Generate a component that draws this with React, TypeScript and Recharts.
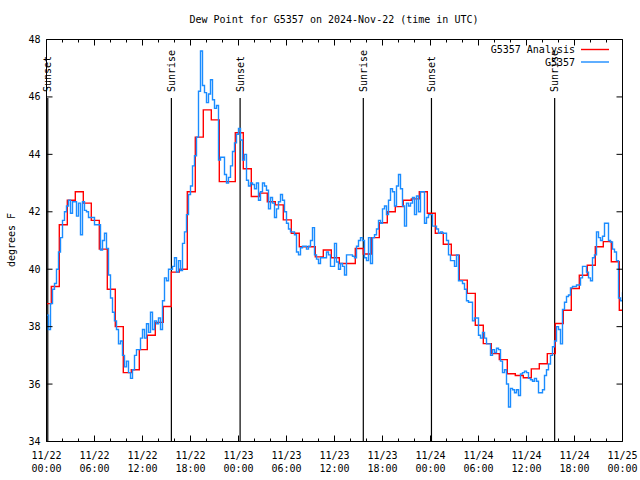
import React from 'react';
import { LineChart, Line, XAxis, YAxis, ReferenceLine } from 'recharts';

const FONT = "'DejaVu Sans Mono', 'Liberation Mono', monospace";

// analysis, hourly, each value valid from about hh:36 UTC (first one from 00:00)
const analysisValues = [
  38.8, 39.4, 41.55, 42.4, 42.7, 42.3, 41.7, 40.7, 39.3, 38.0, 36.4, 36.5,
  37.2, 37.7, 38.15, 38.7, 39.9, 40.0, 42.7, 44.6, 45.55, 45.2, 43.05, 43.05,
  44.75, 43.5, 42.53, 42.65, 42.35, 42.24, 41.72, 41.25, 40.78, 40.78, 40.43, 40.67,
  40.4, 40.2, 40.2, 40.72, 40.53, 41.1, 41.62, 42.0, 42.18, 42.4, 42.45, 42.7,
  41.95, 41.25, 40.87, 40.49, 39.62, 39.16, 38.05, 37.41, 37.06, 36.85, 36.36, 36.3,
  36.22, 36.53, 36.71, 37.06, 38.11, 38.57, 39.33, 39.79, 40.14, 40.78, 40.96, 40.26,
  38.57,
];

// station obs, one every 15 min from 11/22 00:00 (4 per row = 1 hour)
const obsValues = [
  38.4, 37.9, 38.8, 39.3,
  39.5, 40.0, 40.6, 41.1,
  41.7, 42.0, 42.2, 42.4,
  41.95, 42.35, 42.35, 41.85,
  42.3, 41.2, 42.35, 42.05,
  42.0, 41.8, 41.8, 41.8,
  41.55, 41.55, 41.55, 40.67,
  41.0, 41.25, 40.72, 39.8,
  39.0, 38.5, 38.2, 37.9,
  37.4, 37.5, 37.0, 36.6,
  36.8, 36.4, 36.2, 36.5,
  37.0, 37.2, 37.2, 37.6,
  37.9, 37.6, 38.1, 37.8,
  38.5, 37.9, 38.2, 38.1,
  38.3, 37.9, 38.9, 39.7,
  39.6, 40.0, 40.0, 40.1,
  40.4, 39.9, 40.3, 39.95,
  40.9, 41.3, 41.9, 42.6,
  42.9, 43.6, 43.95, 44.6,
  46.2, 47.6, 46.4, 46.15,
  45.8, 46.1, 46.6, 45.9,
  45.6, 45.7, 43.8, 43.9,
  43.9, 43.3, 43.0, 43.2,
  43.6, 44.1, 44.4, 44.7,
  44.9, 44.5, 43.8, 44.0,
  43.1, 42.9, 43.0, 42.95,
  42.8, 43.0, 42.4, 42.7,
  43.0, 42.9, 42.75, 42.1,
  42.5, 42.3, 41.8, 42.1,
  42.35, 42.6, 42.4, 42.0,
  41.6, 41.4, 41.3, 41.3,
  41.2, 40.6, 40.5, 40.75,
  40.8, 40.8, 40.7, 40.8,
  41.0, 41.45, 40.5, 40.35,
  40.2, 40.4, 40.4, 40.4,
  40.6, 40.5, 40.1, 40.1,
  40.9, 40.25, 40.0, 40.2,
  40.1, 39.8, 40.5, 40.5,
  40.5, 40.45, 40.4, 40.8,
  41.0, 41.1, 41.0, 40.4,
  40.3, 41.1, 40.2, 41.1,
  41.2, 41.4, 41.7, 41.6,
  42.1, 42.2, 41.9, 42.4,
  42.8, 42.7, 42.2, 42.9,
  43.3, 42.8, 42.2, 41.5,
  42.3, 42.2, 42.3, 42.5,
  41.9, 42.55, 42.0, 42.7,
  42.7, 41.6, 41.8, 41.9,
  41.9, 41.5, 41.5, 41.4,
  41.25, 41.3, 41.25, 41.25,
  41.0, 40.5, 40.3, 40.3,
  40.1, 40.5, 39.6, 39.6,
  39.5, 39.3, 38.9, 38.85,
  38.85, 38.2, 38.3, 38.3,
  37.7, 37.6, 37.8, 37.6,
  37.4, 37.4, 37.0, 37.2,
  37.1, 37.25, 37.2, 36.8,
  36.4, 36.5, 36.0, 35.2,
  35.85, 35.8, 35.7, 35.8,
  35.6, 36.35, 36.4, 36.45,
  36.4, 36.2, 36.15, 36.1,
  36.2, 36.1, 35.7, 35.7,
  35.8, 36.3, 36.5, 36.7,
  37.0, 37.3, 37.5, 38.0,
  37.9, 37.4, 38.6, 38.85,
  39.05, 39.1, 39.35, 39.4,
  39.4, 39.45, 39.45, 39.7,
  40.1, 40.1, 39.9, 39.7,
  39.6, 40.4, 40.5, 41.3,
  41.1, 41.0, 41.15, 41.6,
  41.6, 41.0, 40.95, 40.7,
  40.6, 40.3, 39.0, 38.9,
  39.2,
];

// sun events, hours after 11/22 00:00 UTC
const sunHours = [0.16, 15.61, 24.2, 39.6, 48.12, 63.52];
const sunLabels = ['Sunset', 'Sunrise', 'Sunset', 'Sunrise', 'Sunset', 'Sunrise'];

const xTicks = [0, 2, 4, 6, 8, 10, 12, 14, 16, 18, 20, 22, 24, 26, 28, 30, 32, 34, 36,
  38, 40, 42, 44, 46, 48, 50, 52, 54, 56, 58, 60, 62, 64, 66, 68, 70, 72];
const xMajorTicks = [0, 6, 12, 18, 24, 30, 36, 42, 48, 54, 60, 66, 72];
const xTickDates = ['11/22', '11/22', '11/22', '11/22', '11/23', '11/23', '11/23',
  '11/23', '11/24', '11/24', '11/24', '11/24', '11/25'];
const xTickTimes = ['00:00', '06:00', '12:00', '18:00', '00:00', '06:00', '12:00',
  '18:00', '00:00', '06:00', '12:00', '18:00', '00:00'];
const yTicks = [34, 36, 38, 40, 42, 44, 46, 48];

const RED = '#ff0000';
const BLUE = '#1a8cff';

const analysisData = analysisValues.map((v, i) => ({ t: i === 0 ? 0 : i - 0.4, v }));
analysisData.push({ t: 72, v: analysisValues[analysisValues.length - 1] });
const obsData = obsValues.map((v, i) => ({ t: i / 4, v }));

const BottomTick = (props: any) => {
  const { x, y, payload } = props;
  const i = xMajorTicks.indexOf(payload.value);
  const major = i >= 0;
  return (
    <g>
      <line x1={x} x2={x} y1={y} y2={y - (major ? 6 : 3)} stroke="#000" />
      {major && (
        <text x={x} y={y + 17.5} textAnchor="middle" fontFamily={FONT} fontSize={10} fill="#000">
          {xTickDates[i]}
        </text>
      )}
      {major && (
        <text x={x} y={y + 30.5} textAnchor="middle" fontFamily={FONT} fontSize={10} fill="#000">
          {xTickTimes[i]}
        </text>
      )}
    </g>
  );
};

const TopTick = (props: any) => {
  const { x, y, payload } = props;
  const major = xMajorTicks.indexOf(payload.value) >= 0;
  return <line x1={x} x2={x} y1={y} y2={y + (major ? 6 : 3)} stroke="#000" />;
};

const LeftTick = (props: any) => {
  const { x, y, payload } = props;
  return (
    <g>
      <line x1={x} x2={x + 6} y1={y} y2={y} stroke="#000" />
      <text x={x - 6} y={y} dy="0.35em" textAnchor="end" fontFamily={FONT} fontSize={10} fill="#000">
        {payload.value}
      </text>
    </g>
  );
};

const RightTick = (props: any) => {
  const { x, y } = props;
  return <line x1={x} x2={x - 6} y1={y} y2={y} stroke="#000" />;
};

const sunShape = (label: string) => (p: any) => (
  <g>
    <line x1={p.x1} y1={p.y1} x2={p.x2} y2={p.y2} stroke="#000" strokeWidth={1.2} />
    <text
      x={p.x1}
      y={92}
      dy="0.35em"
      textAnchor="start"
      transform={`rotate(-90, ${p.x1}, 92)`}
      fontFamily={FONT}
      fontSize={10}
      fill="#000"
    >
      {label}
    </text>
  </g>
);

export default function App() {
  return (
    <div style={{ position: 'absolute', left: 0, top: 0, width: 640, height: 480, background: '#fff' }}>
      <LineChart width={640} height={480} margin={{ top: 0, right: 0, bottom: 0, left: 0 }}>
        <XAxis
          dataKey="t"
          type="number"
          domain={[0, 72]}
          ticks={xTicks}
          interval={0}
          height={38.5}
          tickSize={0}
          tickMargin={0}
          tickLine={false}
          axisLine={{ stroke: '#000' }}
          tick={<BottomTick />}
          allowDataOverflow
        />
        <XAxis
          xAxisId="top"
          orientation="top"
          dataKey="t"
          type="number"
          domain={[0, 72]}
          ticks={xTicks}
          interval={0}
          height={39.5}
          tickSize={0}
          tickMargin={0}
          tickLine={false}
          axisLine={{ stroke: '#000' }}
          tick={<TopTick />}
          allowDataOverflow
        />
        <YAxis
          type="number"
          domain={[34, 48]}
          ticks={yTicks}
          interval={0}
          width={46.5}
          tickSize={0}
          tickMargin={0}
          tickLine={false}
          axisLine={{ stroke: '#000' }}
          tick={<LeftTick />}
          allowDataOverflow
        />
        <YAxis
          yAxisId="r"
          orientation="right"
          type="number"
          domain={[34, 48]}
          ticks={yTicks}
          interval={0}
          width={17.5}
          tickSize={0}
          tickMargin={0}
          tickLine={false}
          axisLine={{ stroke: '#000' }}
          tick={<RightTick />}
          allowDataOverflow
        />
        {sunHours.map((t, i) => (
          <ReferenceLine
            key={i}
            segment={[{ x: t, y: 45.96 }, { x: t, y: 34 }]}
            shape={sunShape(sunLabels[i])}
          />
        ))}
        <Line
          data={analysisData}
          dataKey="v"
          type="stepAfter"
          stroke={RED}
          strokeWidth={1.4}
          dot={false}
          isAnimationActive={false}
          name="G5357 Analysis"
        />
        <Line
          data={obsData}
          dataKey="v"
          type="stepAfter"
          stroke={BLUE}
          strokeWidth={1.4}
          dot={false}
          isAnimationActive={false}
          name="G5357"
        />
      </LineChart>
      <svg
        width={640}
        height={480}
        style={{ position: 'absolute', left: 0, top: 0, pointerEvents: 'none' }}
      >
        <text x={334} y={23} textAnchor="middle" fontFamily={FONT} fontSize={10} fill="#000">
          Dew Point for G5357 on 2024-Nov-22 (time in UTC)
        </text>
        <text
          x={11}
          y={240}
          dy="0.35em"
          textAnchor="middle"
          transform="rotate(-90, 11, 240)"
          fontFamily={FONT}
          fontSize={10}
          fill="#000"
        >
          degrees F
        </text>
        <text x={575} y={49.5} dy="0.35em" textAnchor="end" fontFamily={FONT} fontSize={10} fill="#000">
          G5357 Analysis
        </text>
        <line x1={581} x2={609} y1={49.5} y2={49.5} stroke={RED} strokeWidth={1.4} />
        <text x={575} y={62} dy="0.35em" textAnchor="end" fontFamily={FONT} fontSize={10} fill="#000">
          G5357
        </text>
        <line x1={581} x2={609} y1={62} y2={62} stroke={BLUE} strokeWidth={1.4} />
      </svg>
    </div>
  );
}
